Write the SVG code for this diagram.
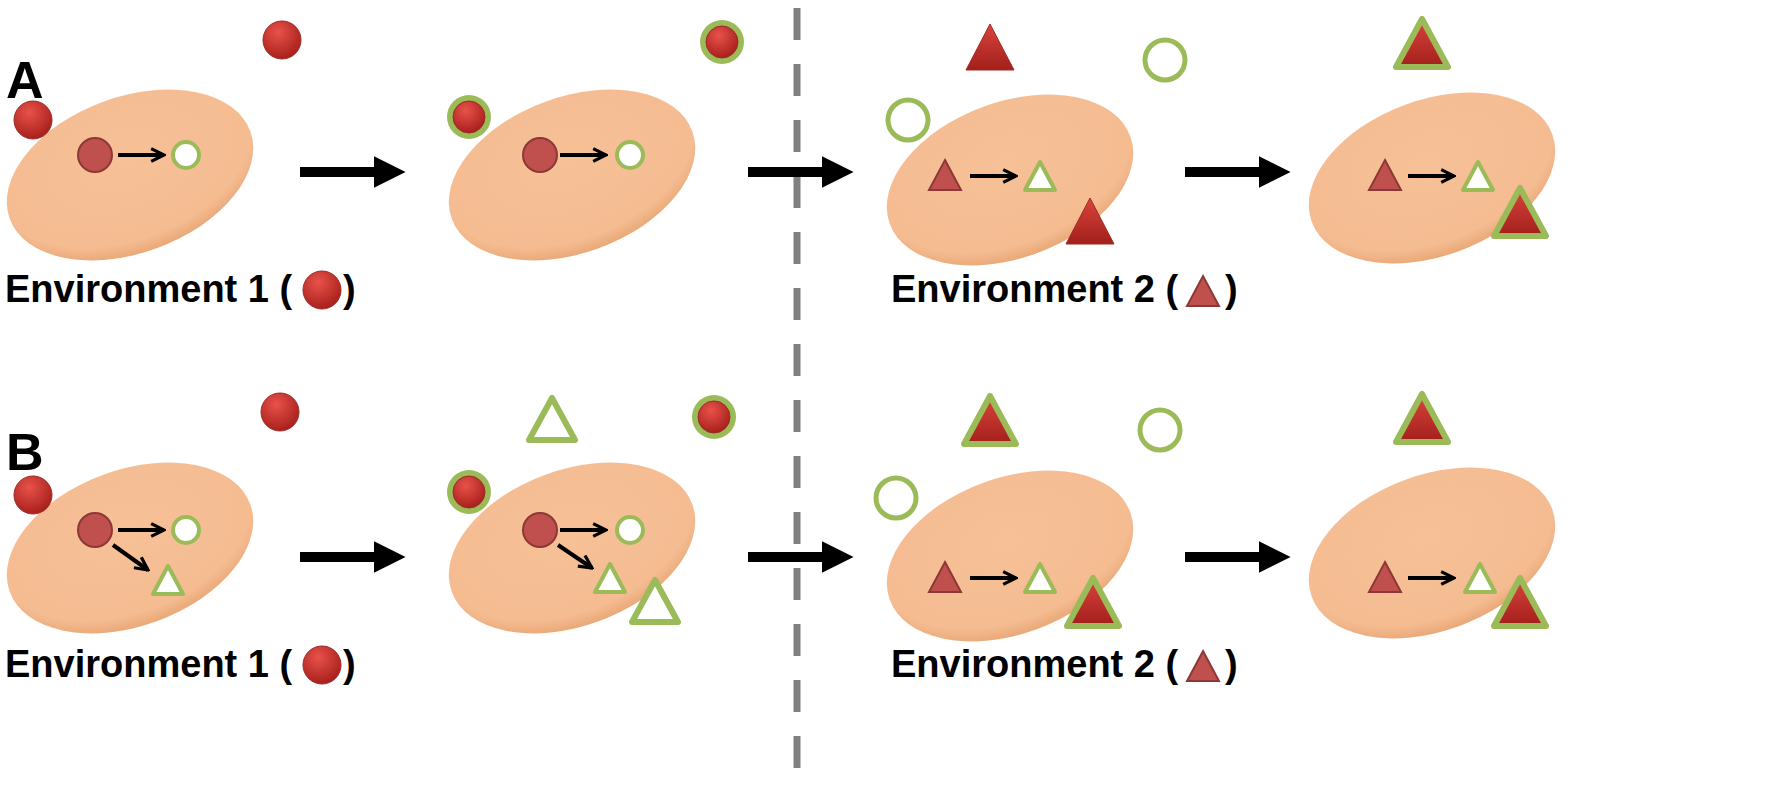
<svg xmlns="http://www.w3.org/2000/svg" width="1785" height="800" viewBox="0 0 1785 800">
<defs>
<radialGradient id="rb" cx="0.4" cy="0.3" r="0.7"><stop offset="0" stop-color="#e8524a"/><stop offset="1" stop-color="#a9201c"/></radialGradient>
<linearGradient id="rt" x1="0" y1="0" x2="0" y2="1"><stop offset="0" stop-color="#d9443d"/><stop offset="1" stop-color="#a31f1b"/></linearGradient>
<radialGradient id="cell" cx="0.5" cy="0.4" r="0.6"><stop offset="0" stop-color="#f7c097"/><stop offset="0.85" stop-color="#f5bc92"/><stop offset="1" stop-color="#e9a877"/></radialGradient>
<marker id="ah" viewBox="0 0 10 10" refX="9" refY="5" markerWidth="4" markerHeight="4" orient="auto"><path d="M1,1 L9,5 L1,9" fill="none" stroke="#000" stroke-width="2"/></marker>
<marker id="bh" viewBox="0 0 10 10" refX="2" refY="5" markerWidth="3.2" markerHeight="3.2" orient="auto"><path d="M0,0 L10,5 L0,10 z" fill="#000"/></marker>
<g id="ball"><circle r="19" fill="url(#rb)" stroke="#9a2a26" stroke-width="1"/></g>
<g id="rball"><circle r="22" fill="#9bbb59"/><circle r="16" fill="url(#rb)" stroke="#9a2a26" stroke-width="1"/></g>
<g id="ic"><circle r="17" fill="#c0504d" stroke="#8c3836" stroke-width="2"/></g>
<g id="ring"><circle r="13" fill="#fff" stroke="#9bbb59" stroke-width="4"/></g>
<g id="bring"><circle r="20" fill="none" stroke="#9bbb59" stroke-width="5"/></g>
<g id="itri"><path d="M0,-16 L16,14 L-16,14 z" fill="#c0504d" stroke="#8c3836" stroke-width="2"/></g>
<g id="htri"><path d="M0,-14 L15,14 L-15,14 z" fill="#fff" stroke="#9bbb59" stroke-width="4" stroke-linejoin="round"/></g>
<g id="btri"><path d="M0,-24 L24,22 L-24,22 z" fill="url(#rt)" stroke="#a02a25" stroke-width="1"/></g>
<g id="rtri"><path d="M0,-26 L26,22 L-26,22 z" fill="url(#rt)" stroke="#9bbb59" stroke-width="6" stroke-linejoin="round"/></g>
<g id="bhtri"><path d="M0,-22 L23,20 L-23,20 z" fill="#fff" stroke="#9bbb59" stroke-width="6" stroke-linejoin="round"/></g>
</defs>
<style>
.cell{fill:url(#cell)}
.sa{stroke:#000;stroke-width:4;fill:none;marker-end:url(#ah)}
.ba{stroke:#000;stroke-width:10;marker-end:url(#bh)}
text{font-family:"Liberation Sans",Arial,sans-serif;font-weight:bold;fill:#000}
.lb{font-size:38px}
.big{font-size:52px}
</style>
<rect width="1785" height="800" fill="#fff"/>
<line x1="797" y1="8" x2="797" y2="785" stroke="#808080" stroke-width="7" stroke-dasharray="32,24"/>
<g id="panelA">
<text class="big" x="6" y="98">A</text>
<g id="A1"><ellipse class="cell" cx="130" cy="175" rx="128" ry="78" transform="rotate(-20 130 175)"/>
<use href="#ic" x="95" y="155"/><use href="#ring" x="186" y="155"/>
<use href="#ball" x="33" y="120"/><use href="#ball" x="282" y="40"/>
<text class="lb" x="5" y="302">Environment 1 (</text><use href="#ball" x="322" y="290"/><text class="lb" x="343" y="302">)</text></g>
<g id="A2"><ellipse class="cell" cx="572" cy="175" rx="128" ry="78" transform="rotate(-20 572 175)"/>
<use href="#ic" x="540" y="155"/><use href="#ring" x="630" y="155"/>
<use href="#rball" x="469" y="117"/><use href="#rball" x="722" y="42"/></g>
<g id="A3"><ellipse class="cell" cx="1010" cy="180" rx="128" ry="78" transform="rotate(-20 1010 180)"/>
<use href="#itri" x="945" y="176"/><use href="#htri" x="1040" y="176"/>
<use href="#btri" x="990" y="48"/><use href="#btri" x="1090" y="222"/>
<use href="#bring" x="1165" y="60"/><use href="#bring" x="908" y="120"/>
<text class="lb" x="891" y="302">Environment 2 (</text><use href="#itri" x="1203" y="292"/><text class="lb" x="1225" y="302">)</text></g>
<g id="A4"><ellipse class="cell" cx="1432" cy="178" rx="128" ry="78" transform="rotate(-20 1432 178)"/>
<use href="#itri" x="1385" y="176"/><use href="#htri" x="1478" y="176"/>
<use href="#rtri" x="1422" y="45"/><use href="#rtri" x="1520" y="214"/></g>
</g>
<g id="panelB">
<text class="big" x="6" y="470">B</text>
<g id="B1"><ellipse class="cell" cx="130" cy="548" rx="128" ry="78" transform="rotate(-20 130 548)"/>
<use href="#ic" x="95" y="530"/><use href="#ring" x="186" y="530"/><use href="#htri" x="168" y="580"/>
<use href="#ball" x="33" y="495"/><use href="#ball" x="280" y="412"/>
<text class="lb" x="5" y="677">Environment 1 (</text><use href="#ball" x="322" y="665"/><text class="lb" x="343" y="677">)</text></g>
<g id="B2"><ellipse class="cell" cx="572" cy="548" rx="128" ry="78" transform="rotate(-20 572 548)"/>
<use href="#ic" x="540" y="530"/><use href="#ring" x="630" y="530"/><use href="#htri" x="610" y="578"/>
<use href="#bhtri" x="655" y="602"/><use href="#bhtri" x="552" y="420"/>
<use href="#rball" x="469" y="492"/><use href="#rball" x="714" y="417"/></g>
<g id="B3"><ellipse class="cell" cx="1010" cy="556" rx="128" ry="78" transform="rotate(-20 1010 556)"/>
<use href="#itri" x="945" y="578"/><use href="#htri" x="1040" y="578"/>
<use href="#rtri" x="990" y="422"/><use href="#rtri" x="1093" y="604"/>
<use href="#bring" x="1160" y="430"/><use href="#bring" x="896" y="498"/>
<text class="lb" x="891" y="677">Environment 2 (</text><use href="#itri" x="1203" y="667"/><text class="lb" x="1225" y="677">)</text></g>
<g id="B4"><ellipse class="cell" cx="1432" cy="553" rx="128" ry="78" transform="rotate(-20 1432 553)"/>
<use href="#itri" x="1385" y="578"/><use href="#htri" x="1480" y="578"/>
<use href="#rtri" x="1422" y="420"/><use href="#rtri" x="1520" y="604"/></g>
</g>
<g id="connectors">
<line class="ba" x1="300" y1="172" x2="380" y2="172"/>
<line class="ba" x1="748" y1="172" x2="828" y2="172"/>
<line class="ba" x1="1185" y1="172" x2="1265" y2="172"/>
<line class="ba" x1="300" y1="557" x2="380" y2="557"/>
<line class="ba" x1="748" y1="557" x2="828" y2="557"/>
<line class="ba" x1="1185" y1="557" x2="1265" y2="557"/>
<line class="sa" x1="118" y1="155" x2="164" y2="155"/>
<line class="sa" x1="560" y1="155" x2="606" y2="155"/>
<line class="sa" x1="970" y1="176" x2="1016" y2="176"/>
<line class="sa" x1="1408" y1="176" x2="1454" y2="176"/>
<line class="sa" x1="118" y1="530" x2="164" y2="530"/>
<line class="sa" x1="113" y1="545" x2="148" y2="570"/>
<line class="sa" x1="560" y1="530" x2="606" y2="530"/>
<line class="sa" x1="558" y1="545" x2="592" y2="568"/>
<line class="sa" x1="970" y1="578" x2="1016" y2="578"/>
<line class="sa" x1="1408" y1="578" x2="1454" y2="578"/>
</g>
</svg>
